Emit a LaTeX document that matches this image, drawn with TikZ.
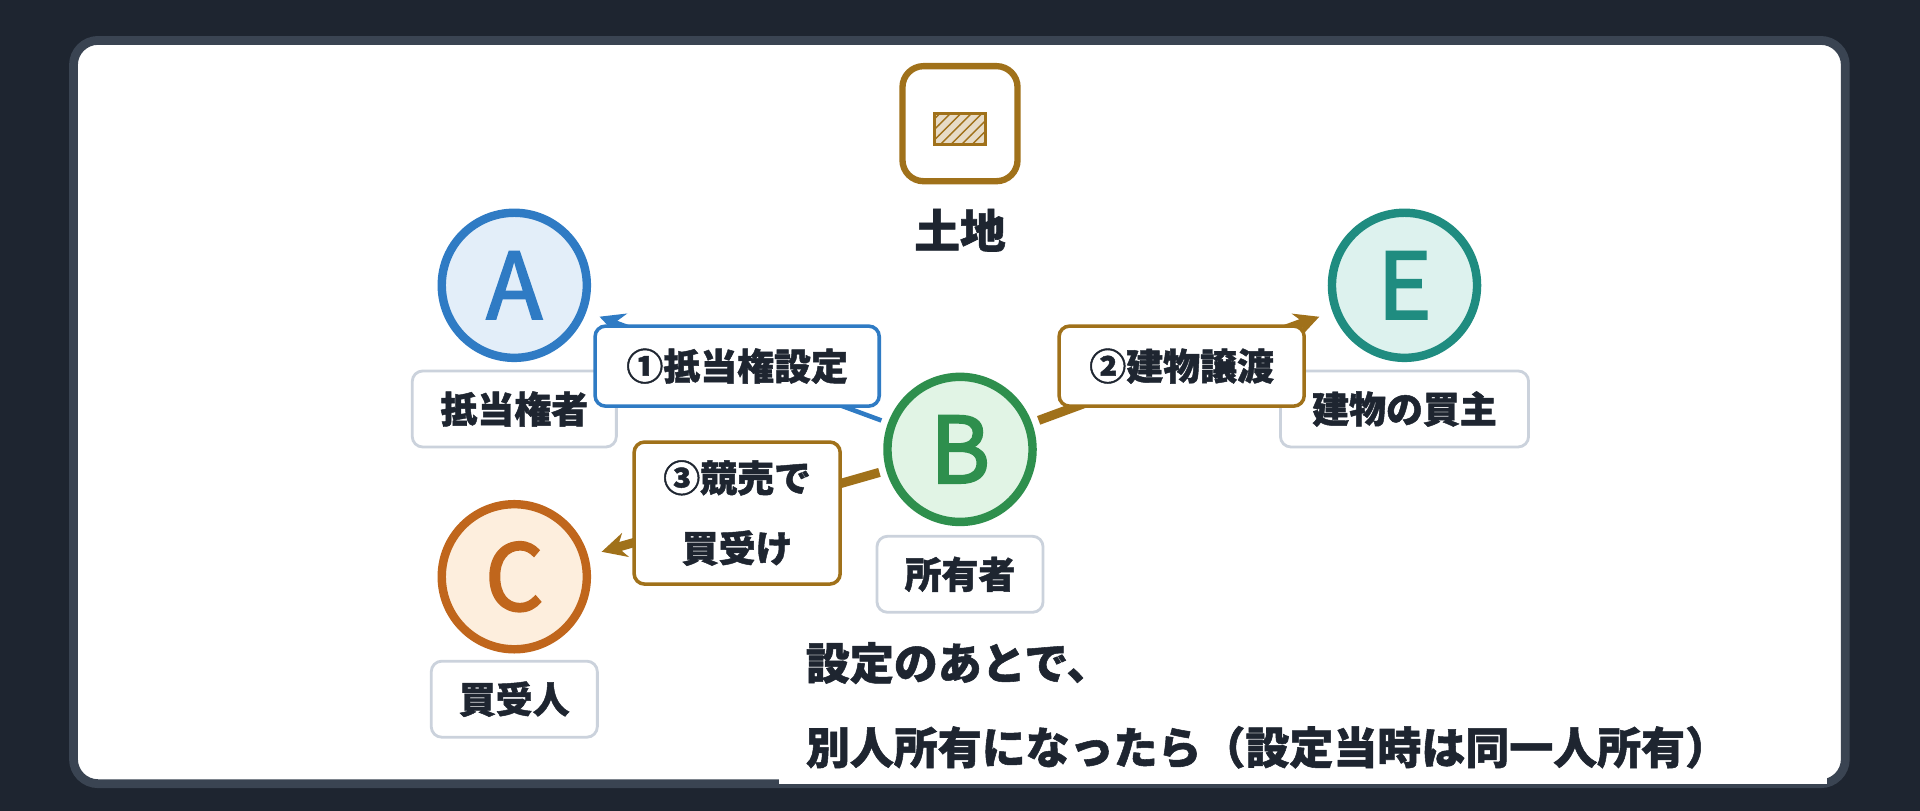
\documentclass[tikz,border=0pt]{standalone}
\usepackage{fontspec}
\setmainfont{Noto Sans CJK JP}[FakeBold=1.2]
\newfontfamily\letterfont{Noto Sans CJK JP}[FakeBold=2.5]
\usetikzlibrary{arrows.meta,patterns}
\definecolor{bgdark}{HTML}{1E2530}
\definecolor{cardline}{HTML}{3A4452}
\definecolor{inkdark}{HTML}{1E2530}
\definecolor{gold}{HTML}{A0711A}
\definecolor{ablue}{HTML}{2F7BC4}
\definecolor{afill}{HTML}{E3EEF9}
\definecolor{bgreen}{HTML}{2E8F4D}
\definecolor{bfill}{HTML}{E1F4E5}
\definecolor{corange}{HTML}{C0661C}
\definecolor{cfill}{HTML}{FDEEDD}
\definecolor{eteal}{HTML}{1F8C80}
\definecolor{efill}{HTML}{DDF2EE}
\definecolor{tagline}{HTML}{CBD2DC}
\begin{document}
\begin{tikzpicture}[x=0.012245cm,y=-0.012245cm,
    party/.style={circle,line width=2.4pt,minimum size=1.45cm,inner sep=0pt,font=\letterfont\fontsize{26}{26}\selectfont},
    tag/.style={draw=tagline,fill=white,rounded corners=3pt,line width=0.8pt,inner sep=0pt,minimum height=0.76cm,text=inkdark,font=\bfseries\fontsize{10.5}{12}\selectfont},
    steplabel/.style={fill=white,rounded corners=3pt,line width=1pt,text=inkdark,font=\bfseries\fontsize{10.5}{12}\selectfont,inner sep=0pt,minimum height=0.8cm},
    flow/.style={gold,line width=2.6pt,-{Stealth[length=7pt,width=7pt]},shorten >=4pt,shorten <=2pt}]
  \fill[bgdark] (0,0) rectangle (1568,662);
  \draw[cardline,fill=white,line width=2.5pt,rounded corners=7pt] (60,33) rectangle (1507,640);
  % land
  \node[draw=gold,line width=1.8pt,rounded corners=6pt,minimum size=1.15cm,fill=white] (land) at (784,101) {};
  \draw[gold,line width=0.9pt,fill=gold!25] (763,93) rectangle (805,118);
  \draw[gold,line width=0.9pt,pattern=north east lines,pattern color=gold] (763,93) rectangle (805,118);
  \node[text=inkdark,font=\bfseries\fontsize{13}{14}\selectfont] (landtxt) at (784,188) {土地};
  % parties
  \node[party,draw=ablue,fill=afill,text=ablue] (A) at (420,233) {A};
  \node[party,draw=eteal,fill=efill,text=eteal] (E) at (1147,233) {E};
  \node[party,draw=bgreen,fill=bfill,text=bgreen] (B) at (784,367) {B};
  \node[party,draw=corange,fill=cfill,text=corange] (C) at (420,471) {C};
  \node[tag,minimum width=2.04cm] (Atag) at (420,334) {抵当権者};
  \node[tag,minimum width=2.48cm] (Etag) at (1147,334) {建物の買主};
  \node[tag,minimum width=1.66cm] (Btag) at (784,469) {所有者};
  \node[tag,minimum width=1.66cm] (Ctag) at (420,571) {買受人};
  % flows
  \draw[flow,ablue,line width=1.3pt] (B) -- (A);
  \draw[flow] (B) -- (E);
  \draw[flow] (B) -- (C);
  \node[steplabel,draw=ablue,minimum width=2.84cm] (s1) at (602,299) {①抵当権設定};
  \node[steplabel,draw=gold,minimum width=2.45cm] (s2) at (965,299) {②建物譲渡};
  \node[steplabel,draw=gold,minimum width=2.06cm,minimum height=1.42cm,align=center,font=\bfseries\fontsize{10.5}{20}\selectfont] (s3) at (602,419) {③競売で\\買受け};
  % note
  \fill[white] (636,520) rectangle (1492,640);
  \node[anchor=west,align=left,text=inkdark,font=\bfseries\fontsize{12.5}{24}\selectfont] (note) at (648,576) {設定のあとで、\\別人所有になったら（設定当時は同一人所有）};
\end{tikzpicture}
\end{document}
